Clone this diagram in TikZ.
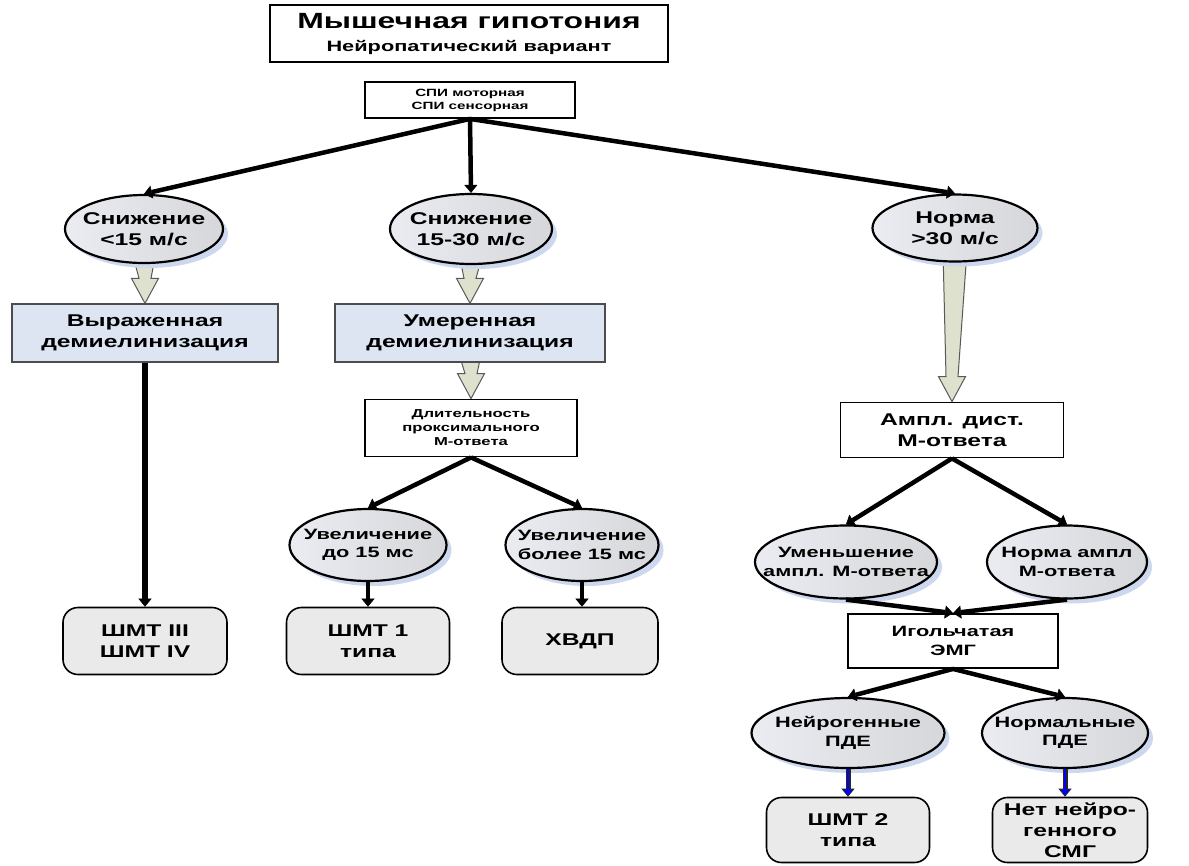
\documentclass[tikz,border=0pt]{standalone}
\usepackage{fontspec}
\setmainfont{Liberation Sans}[FakeStretch=1.45,BoldFeatures={FakeStretch=1.45}]
\usetikzlibrary{arrows.meta,positioning,calc,shapes.geometric,shadows,backgrounds}
\definecolor{elA}{RGB}{234,236,242}
\definecolor{elB}{RGB}{214,215,218}
\definecolor{shc}{RGB}{205,216,238}
\definecolor{lbc}{RGB}{221,229,243}
\definecolor{rbc}{RGB}{234,234,234}
\definecolor{fac}{RGB}{222,225,205}
\newcommand\tsA{\bfseries\fontsize{22}{26}\selectfont}
\newcommand\tsB{\bfseries\fontsize{15}{23}\selectfont}
\newcommand\tsC{\bfseries\fontsize{10.5}{13}\selectfont}
\newcommand\tsD{\bfseries\fontsize{17}{21}\selectfont}
\newcommand\tsE{\bfseries\fontsize{11.5}{14}\selectfont}
\newcommand\tsF{\bfseries\fontsize{15}{18.5}\selectfont}
\tikzset{wb/.style={draw,line width=1.8pt,fill=white,align=center,inner sep=1pt},
 lb/.style={draw=black!70,line width=1.2pt,fill=lbc,align=center,inner sep=1pt,font=\tsD},
 el/.style={ellipse,draw,line width=2.2pt,left color=elA,right color=elB,align=center,inner sep=-30pt,
   drop shadow={shadow xshift=5pt,shadow yshift=-5pt,fill=shc,opacity=1}},
 rb/.style={draw,line width=1.6pt,fill=rbc,rounded corners=15pt,align=center,inner sep=1pt,font=\tsD},
 ar/.style={-{Triangle[length=8pt,width=13pt,line width=.5pt]},line width=4.5pt},
 blu/.style={-{Triangle[length=8pt,width=13pt,line width=.8pt,fill=blue]},line width=5pt,draw=black!85,
   postaction={draw=blue,line width=2.6pt,-,shorten >=7pt}},
 fat/.style={draw=black!65,line width=1pt,fill=fac}}
\newcommand{\bigar}[2]{%
 \path[fat] let \p1=(#1.south), \p2=(#2.north) in
  (\x1-12pt,\y1+12pt) -- (\x1+12pt,\y1+12pt) -- (\x2+6pt,\y2+25pt) -- (\x2+13.5pt,\y2+25pt)
  -- (\p2) -- (\x2-13.5pt,\y2+25pt) -- (\x2-6pt,\y2+25pt) -- cycle;}
\begin{document}
\begin{tikzpicture}[x=1pt,y=-1pt]
\useasboundingbox (0,0) rectangle (1189,865);
% top
\node[wb,minimum width=398pt,minimum height=57pt,font=\tsB] (ttl) at (469,33.5) {{\tsA Мышечная гипотония}\\[0pt]Нейропатический вариант};
\node[wb,minimum width=210pt,minimum height=36pt,font=\tsC] (spi) at (470,100) {СПИ моторная\\СПИ сенсорная};
% speed
\node[el,minimum width=158pt,minimum height=68pt,font=\tsD] (e1) at (144,229) {Снижение\\<15 м/с};
\node[el,minimum width=162pt,minimum height=70pt,font=\tsD] (e2) at (471,229) {Снижение\\15-30 м/с};
\node[el,minimum width=165pt,minimum height=67pt,font=\tsD] (e3) at (955,228) {Норма\\>30 м/с};
\node[lb,minimum width=266pt,minimum height=58pt] (b1) at (145,333) {Выраженная\\демиелинизация};
\node[lb,minimum width=270pt,minimum height=58pt] (b2) at (470,333) {Умеренная\\демиелинизация};
\node[wb,minimum width=212pt,minimum height=57pt,font=\tsE] (dl) at (471,428) {Длительность\\проксимального\\М-ответа};
\node[el,minimum width=157pt,minimum height=72pt,font=\tsF] (f1) at (368,545) {Увеличение\\до 15 мс};
\node[el,minimum width=153pt,minimum height=72pt,font=\tsF] (f2) at (582,545) {Увеличение\\более 15 мс};
\node[rb,minimum width=164pt,minimum height=67pt] (g1) at (145,641) {ШМТ III\\ШМТ IV};
\node[rb,minimum width=163pt,minimum height=67pt] (g2) at (368,641) {ШМТ 1\\типа};
\node[rb,minimum width=156pt,minimum height=67pt] (g3) at (580,641) {ХВДП};
% right branch
\node[wb,minimum width=223pt,minimum height=55pt,font=\tsD] (amp) at (952,430) {Ампл. дист.\\М-ответа};
\node[el,minimum width=182pt,minimum height=73pt,font=\tsF] (i1) at (846,562) {Уменьшение\\ампл. М-ответа};
\node[el,minimum width=160pt,minimum height=73pt,font=\tsF] (i2) at (1067,562) {Норма ампл\\М-ответа};
\node[wb,minimum width=210pt,minimum height=54pt,font=\tsF] (emg) at (953,641) {Игольчатая\\ЭМГ};
\node[el,minimum width=193pt,minimum height=70pt,font=\tsF] (k1) at (848,733) {Нейрогенные\\ПДЕ};
\node[el,minimum width=166pt,minimum height=70pt,font=\tsF] (k2) at (1065,733) {Нормальные\\ПДЕ};
\node[rb,minimum width=163pt,minimum height=65pt] (l1) at (848,830) {ШМТ 2\\типа};
\node[rb,minimum width=155pt,minimum height=65pt] (l2) at (1070,830) {Нет нейро-\\генного\\СМГ};
% connectors
\foreach \n in {e1,e2,e3}{\draw[ar] (spi.south)--(\n.north);}
\draw[ar] (dl.south)--(f1.north);\draw[ar] (dl.south)--(f2.north);
\draw[ar,line width=5.5pt] (b1.south)--(g1.north);
\draw[ar] (f1.south)--(g2.north);\draw[ar] (f2.south)--(f2.south|-g3.north);
\draw[ar] (amp.south)--(i1.north);\draw[ar] (amp.south)--(i2.north);
\draw[ar] (i1.south)--(emg.north);\draw[ar] (i2.south)--(emg.north);
\draw[ar] (emg.south)--(k1.north);\draw[ar] (emg.south)--(k2.north);
\draw[blu] (k1.south)--(l1.north);\draw[blu] (k2.south)--(k2.south|-l2.north);
\begin{scope}[on background layer]
\bigar{e1}{b1}\bigar{e2}{b2}\bigar{b2}{dl}\bigar{e3}{amp}
\end{scope}
\end{tikzpicture}
\end{document}
